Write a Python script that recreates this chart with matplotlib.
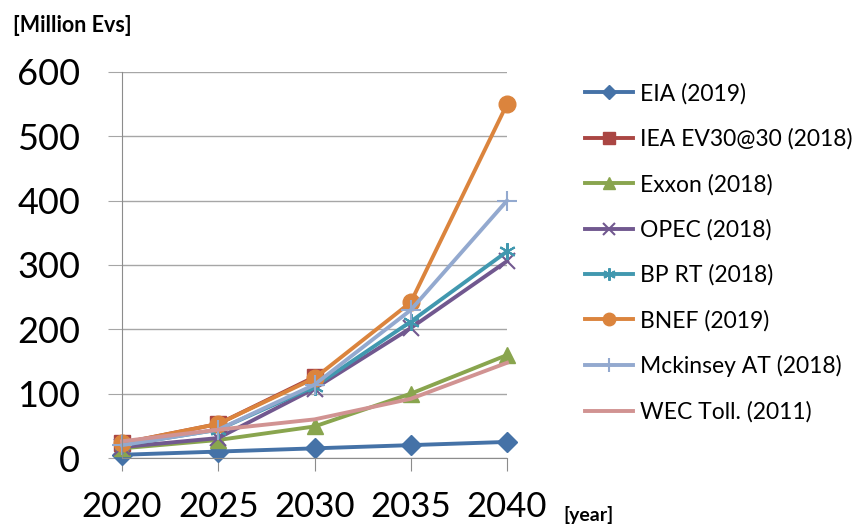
import numpy as np
import matplotlib
matplotlib.use("Agg")
import matplotlib.pyplot as plt

plt.rcParams['font.family'] = ['Lato', 'DejaVu Sans']

years = [2020, 2025, 2030, 2035, 2040]

eia = [5, 10, 15, 20, 25]
iea = [23, 53, 126, np.nan, np.nan]
exxon = [15, 28, 49, 100, 160]
opec = [17, 31, 108, 202, 306]
bp_rt = [20, 44, 111, 212, 321]
bnef = [23, 53, 124, 242, 550]
mckinsey = [20, 44, 114, 230, 400]
wec = [26, 44, 60, 92, 148]

labels = ['EIA (2019)', 'IEA EV30@30 (2018)', 'Exxon (2018)', 'OPEC (2018)',
          'BP RT (2018)', 'BNEF (2019)', 'Mckinsey AT (2018)', 'WEC Toll. (2011)']
colors = ['#4572A7', '#AA4643', '#89A54E', '#71588F',
          '#4198AF', '#DB843D', '#93A9CF', '#D19392']
markers = ['D', 's', '^', 'x', (6, 2, 0), 'o', '+', None]
msizes = [10, 11, 11, 11, 12, 12, 14, 0]
series = [eia, iea, exxon, opec, bp_rt, bnef, mckinsey, wec]

fig = plt.figure(figsize=(8.56, 5.27), dpi=100)
ax = fig.add_axes([122 / 856, 1 - 458 / 527, 385 / 856, 386 / 527])

for vals, lab, c, m, ms in zip(series, labels, colors, markers, msizes):
    ax.plot(years, vals, color=c, lw=2.8, marker=m, markersize=ms,
            markeredgewidth=1.5 if m in ('x', '+', (6, 2, 0)) else 1,
            markeredgecolor=c, markerfacecolor=c, label=lab, clip_on=False,
            solid_joinstyle='round')

ax.set_xlim(2020, 2040)
ax.set_ylim(0, 600)
ax.set_xticks(years)
ax.set_yticks(range(0, 601, 100))
ax.yaxis.grid(True, color='#A6A6A6', lw=1)
ax.set_axisbelow(True)
for s in ['top', 'right']:
    ax.spines[s].set_visible(False)
for s in ['left', 'bottom']:
    ax.spines[s].set_color('#8C8C8C')
ax.tick_params(axis='y', length=10, color='#A6A6A6', labelsize=26, pad=20)
ax.tick_params(axis='x', length=9, color='#8C8C8C', labelsize=25, pad=15)

fig.text(13 / 856, 1 - 25 / 527, '[Million Evs]', fontsize=15.5,
         fontweight='bold', va='center', ha='left')
fig.text(563 / 856, 1 - 515 / 527, '[year]', fontsize=14,
         fontweight='bold', va='center', ha='left')

ax.legend(loc='upper left', bbox_to_anchor=(585 / 856, 1 - 83 / 527),
          bbox_transform=fig.transFigure, frameon=False, fontsize=16.5,
          handlelength=2.1, handletextpad=0.3, labelspacing=1.04,
          borderaxespad=0, borderpad=0, markerscale=0.75)

fig.savefig('out.png', dpi=100)
